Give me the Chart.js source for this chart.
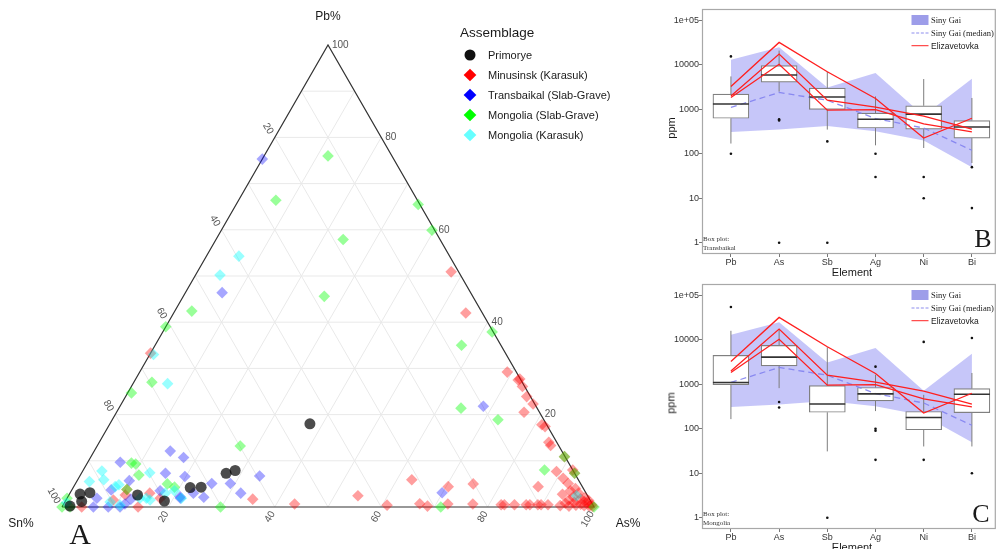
<!DOCTYPE html>
<html lang="en">
<head>
  <meta charset="UTF-8" />
  <title>Ternary plot and box plots</title>
  <script src="https://cdn.jsdelivr.net/npm/chart.js"></script>
  <style>
    body {
      margin: 0;
      background: #fff;
      font-family: "Liberation Sans", Arial, sans-serif;
    }
    #page {
      position: relative;
      width: 996px;
      height: 549px;
      overflow: hidden;
    }
    canvas { position: absolute; }
    .t { position: absolute; white-space: nowrap; line-height: 1; color: #1a1a1a; }
    .c { transform: translate(-50%, -50%); }
    .l { transform: translateY(-50%); }
    .serif { font-family: "Liberation Serif", "Times New Roman", serif; }
    .mk { position: absolute; transform: translate(-50%, -50%); }
  </style>
</head>
<body>
<div id="page">
  <canvas id="ternary" width="650" height="549" style="left:0;top:0"></canvas>
  <canvas id="boxB" width="346" height="275" style="left:650px;top:0"></canvas>
  <canvas id="boxC" width="346" height="274" style="left:650px;top:275px"></canvas>

  <!-- ternary labels -->
  <div class="t c" style="left:328px;top:16px;font-size:12px">Pb%</div>
  <div class="t c" style="left:21px;top:523px;font-size:12px">Sn%</div>
  <div class="t c" style="left:628px;top:523px;font-size:12px">As%</div>
  <div class="t c serif" style="left:80px;top:534px;font-size:30px">A</div>

  <div class="t l" style="left:460px;top:33px;font-size:13.5px">Assemblage</div>
  <div class="mk" style="left:470px;top:55px;width:11px;height:11px;border-radius:50%;background:#111"></div>
  <div class="mk" style="left:470px;top:75px;width:9px;height:9px;background:#ff0000;transform:translate(-50%,-50%) rotate(45deg)"></div>
  <div class="mk" style="left:470px;top:95px;width:9px;height:9px;background:#0000ff;transform:translate(-50%,-50%) rotate(45deg)"></div>
  <div class="mk" style="left:470px;top:114.5px;width:9px;height:9px;background:#00ff00;transform:translate(-50%,-50%) rotate(45deg)"></div>
  <div class="mk" style="left:470px;top:134.5px;width:9px;height:9px;background:#66ffff;transform:translate(-50%,-50%) rotate(45deg)"></div>
  <div class="t l" style="left:488px;top:55px;font-size:11px">Primorye</div>
  <div class="t l" style="left:488px;top:75px;font-size:11px">Minusinsk (Karasuk)</div>
  <div class="t l" style="left:488px;top:95px;font-size:11px">Transbaikal (Slab-Grave)</div>
  <div class="t l" style="left:488px;top:114.5px;font-size:11px">Mongolia (Slab-Grave)</div>
  <div class="t l" style="left:488px;top:134.5px;font-size:11px">Mongolia (Karasuk)</div>

  <!-- box plot B labels -->
  <div class="t c" style="left:670.5px;top:128px;font-size:11px;transform:translate(-50%,-50%) rotate(-90deg)">ppm</div>
  <div class="t c" style="left:852px;top:271.5px;font-size:11px">Element</div>
  <div class="mk" style="left:920px;top:20px;width:17px;height:10px;background:#9d9de9"></div>
  <div class="mk" style="left:920px;top:32.5px;width:17px;height:0;border-top:1.4px dashed #8d8ded"></div>
  <div class="mk" style="left:920px;top:45.5px;width:17px;height:1.6px;background:#ff2222"></div>
  <div class="t l serif" style="left:931px;top:19.5px;font-size:8.5px">Siny Gai</div>
  <div class="t l serif" style="left:931px;top:33px;font-size:8.5px">Siny Gai (median)</div>
  <div class="t l" style="left:931px;top:45.5px;font-size:8.5px">Elizavetovka</div>
  <div class="t serif" style="left:703px;top:235px;font-size:7px;line-height:9px;color:#333">Box plot:<br>Transbaikal</div>
  <div class="t c serif" style="left:983px;top:239px;font-size:26px">B</div>

  <!-- box plot C labels -->
  <div class="t c" style="left:670.5px;top:403px;font-size:11px;transform:translate(-50%,-50%) rotate(-90deg)">ppm</div>
  <div class="t c" style="left:852px;top:546.5px;font-size:11px">Element</div>
  <div class="mk" style="left:920px;top:295px;width:17px;height:10px;background:#9d9de9"></div>
  <div class="mk" style="left:920px;top:307.5px;width:17px;height:0;border-top:1.4px dashed #8d8ded"></div>
  <div class="mk" style="left:920px;top:320.5px;width:17px;height:1.6px;background:#ff2222"></div>
  <div class="t l serif" style="left:931px;top:294.5px;font-size:8.5px">Siny Gai</div>
  <div class="t l serif" style="left:931px;top:308px;font-size:8.5px">Siny Gai (median)</div>
  <div class="t l" style="left:931px;top:320.5px;font-size:8.5px">Elizavetovka</div>
  <div class="t serif" style="left:703px;top:510px;font-size:7px;line-height:9px;color:#333">Box plot:<br>Mongolia</div>
  <div class="t c serif" style="left:981px;top:514px;font-size:26px">C</div>
</div>

<script>
  // ---- ternary data: [Pb %, As %], Sn is the rest ----
  const primorye = [[18, 37.6], [7.3, 27.2], [7.9, 28.6], [4.2, 22], [4.3, 24], [2.6, 12.9],
    [1.3, 18.6], [3.1, 3.7], [2.8, 2.0], [1.2, 3.1], [0.2, 1.4]];

  const minusinsk = [[33.3, 0], [50.9, 47.7], [42, 54.9], [29.2, 69.1], [27.5, 72], [27.7, 72.2],
    [26.1, 73.5], [23.9, 75.4], [22.3, 77.4], [20.5, 76.6], [17.8, 81.3], [17.4, 82.1], [14, 84.5],
    [13.3, 85.2], [10.9, 89], [7.7, 89.1], [8, 92], [7.3, 92.7], [5.1, 92.6], [6.2, 91.1], [4.4, 87.3],
    [2.75, 92.7], [5.9, 62.8], [4.4, 70.4], [5, 74.8], [2.45, 54.4], [1.7, 35], [0.65, 43.4], [0.4, 60.9],
    [0.7, 66.9], [0.2, 68.6], [0.65, 72.2], [0.65, 76.9], [0.5, 82.3], [0.5, 82.9], [0.5, 84.8],
    [0.5, 87], [0.5, 87.7], [0.5, 89.2], [0.5, 89.8], [0.5, 91.1], [0.3, 93.5], [0.8, 94.2], [1.5, 94.5],
    [0.2, 95.2], [2.2, 95], [1, 95.8], [0.4, 96.4], [3, 95.6], [1.8, 96.6], [0.6, 97.2], [1.2, 97.6],
    [0.3, 98], [2, 97.3], [0.8, 98.5], [0.2, 99], [0.5, 99.3], [0.1, 99.7], [1.4, 98.3], [4, 94.5],
    [3.5, 93.8], [1.5, 8.9], [3, 15], [0, 14.3], [2.6, 10.6], [0, 3.7], [1.9, 17.5], [3.8, 10.3]];

  const transbaikal = [[75.3, 0], [46.4, 6.9], [21.8, 68.3], [3.1, 69.9], [12.1, 14.3], [10.7, 17.5],
    [9.7, 6.1], [7.3, 15.8], [6.6, 19.8], [5.7, 9.8], [2.1, 25.6], [1.9, 21.3], [3.7, 7.4], [1.9, 5.6],
    [0.65, 11.5], [6.7, 33.8], [5.1, 25.6], [5.1, 29.1], [3, 32.1], [3.5, 16.7], [0, 5.9], [0, 8.7],
    [3, 23.2], [1.7, 12.1], [2.2, 21.1], [0, 10.9]];

  const mongoliaSlab = [[76, 12], [66.4, 7], [57.9, 23.9], [45.6, 26.5], [42.4, 3.2], [39, 0],
    [27, 3.4], [24.7, 0.7], [65.5, 34.2], [59.9, 39.6], [37.9, 61.9], [35, 57.6], [21.4, 64.3],
    [18.9, 72.5], [10.9, 89], [8, 86.7], [7.3, 92.7], [0, 71.2], [0, 100], [13.2, 26.9], [0, 29.8],
    [9.5, 8.3], [9.3, 9.2], [6.9, 11], [5, 17.3], [4.3, 19], [3.8, 10.3], [1.9, 0], [0, 0], [0, 1.5]];

  const mongoliaKarasuk = [[54.3, 6.1], [50.2, 4.6], [33, 0.7], [26.7, 6.5], [7.8, 3.6], [5.9, 4.9],
    [5.5, 2.4], [7.4, 12.8], [1.9, 14.9], [0.4, 10.7], [3, 17.9], [3.5, 19.4], [4.4, 7.8], [1.9, 21.5],
    [2.45, 95.5], [4.8, 8.3], [1.5, 15.8], [1.1, 8.5], [1.9, 13.7], [0.9, 0.4]];

  const ternTicks = [20, 40, 60, 80, 100];
  const gridSteps = [10, 20, 30, 40, 50, 60, 70, 80, 90];

  // ---- box plot data ----
  const elements = ['Pb', 'As', 'Sb', 'Ag', 'Ni', 'Bi'];
  const logTicks = [1, 10, 100, 1000, 10000, 100000];

  const sinyHigh = [13000, 25000, 3100, 6600, 720, 4900];
  const sinyLow = [310, 350, 420, 320, 200, 50];
  const sinyMedian = [1100, 2400, 1600, 620, 380, 120];

  const elizA = [3250, 32000, 7000, 1750, 225, 630];
  const elizB = [2000, 17500, 1600, 1120, 700, 360];
  const elizC = [1850, 10300, 960, 980, 470, 310];

  const transLow = [170, 2500, 350, 155, 135, 62];
  const transQ1 = [630, 4100, 1000, 380, 360, 225];
  const transMed = [1320, 5900, 1900, 600, 780, 400];
  const transQ3 = [2200, 9600, 3000, 820, 1200, 560];
  const transHigh = [5500, 21000, 7000, 1950, 4800, 1800];
  const transOut = [[15500, 100], [600, 560, 1], [190, 1], [100, 30], [30, 10], [50, 6]];

  const mongLow = [165, 820, 31, 250, 40, 40];
  const mongQ1 = [980, 2600, 235, 425, 95, 230];
  const mongMed = [1100, 4100, 360, 610, 180, 600];
  const mongQ3 = [4500, 7500, 940, 850, 245, 800];
  const mongHigh = [16000, 17000, 6800, 1640, 580, 1800];
  const mongOut = [[55000], [400, 300], [1], [2500, 100, 90, 20], [9000, 20], [11000, 10]];

  // ---- ternary chart ----
  function tern(pb, as) {
    return { x: (as + pb / 2) / 100, y: pb / 100 };
  }
  const gap = { x: 0, y: null };

  const gridPts = [];
  gridSteps.forEach(k => {
    gridPts.push(tern(k, 0), tern(k, 100 - k), gap);
    gridPts.push(tern(0, k), tern(100 - k, k), gap);
    gridPts.push(tern(0, 100 - k), tern(100 - k, 0), gap);
  });

  function rotText(ctx, s, x, y, a) {
    ctx.save();
    ctx.translate(x, y);
    ctx.rotate(a);
    ctx.textAlign = 'right';
    ctx.fillText(s, 0, 0);
    ctx.restore();
  }

  const ternAxisLabels = {
    id: 'ternAxisLabels',
    afterDatasetsDraw(chart) {
      const { ctx } = chart;
      const sx = chart.scales.x, sy = chart.scales.y;
      const px = p => [sx.getPixelForValue(p.x), sy.getPixelForValue(p.y)];
      ctx.save();
      ctx.font = '10px "Liberation Sans", Arial, sans-serif';
      ctx.fillStyle = '#555';
      ctx.textBaseline = 'middle';
      ternTicks.forEach(t => {
        const label = String(t);
        let [x, y] = px(tern(t, 100 - t));      // Pb, right side
        ctx.textAlign = 'left';
        ctx.fillText(label, x + 4, y);
        [x, y] = px(tern(100 - t, 0));          // Sn, left side
        rotText(ctx, label, x - 4, y - 4, Math.PI / 3);
        [x, y] = px(tern(0, t));                // As, bottom
        rotText(ctx, label, x - 2, y + 5, -Math.PI / 3);
      });
      ctx.restore();
    }
  };

  function group(pts, color, style, radius, order) {
    return {
      data: pts.map(p => tern(p[0], p[1])),
      pointStyle: style,
      pointRadius: radius,
      pointBackgroundColor: color,
      pointBorderWidth: 0,
      clip: false,
      order
    };
  }

  new Chart(document.getElementById('ternary'), {
    type: 'scatter',
    data: {
      datasets: [
        { type: 'line', data: gridPts, borderColor: '#e9e9e9', borderWidth: 1, pointRadius: 0, order: 20 },
        {
          type: 'line', data: [tern(0, 0), tern(0, 100), tern(100, 0), tern(0, 0)],
          borderColor: '#333', borderWidth: 1.2, pointRadius: 0, clip: false, order: 19
        },
        group(minusinsk, 'rgba(255,0,0,0.38)', 'rectRot', 5.8, 6),
        group(transbaikal, 'rgba(0,0,255,0.35)', 'rectRot', 5.8, 5),
        group(mongoliaSlab, 'rgba(0,255,0,0.4)', 'rectRot', 5.8, 4),
        group(mongoliaKarasuk, 'rgba(0,255,255,0.4)', 'rectRot', 5.8, 3),
        group(primorye, 'rgba(0,0,0,0.7)', 'circle', 5.5, 1)
      ]
    },
    options: {
      responsive: false,
      animation: false,
      events: [],
      layout: { autoPadding: false, padding: { left: 62, right: 56, top: 45, bottom: 42 } },
      scales: {
        x: { type: 'linear', min: 0, max: 1, display: false },
        y: { type: 'linear', min: 0, max: 1, display: false }
      },
      plugins: { legend: { display: false }, tooltip: { enabled: false } }
    },
    plugins: [ternAxisLabels]
  });

  // ---- box plots ----
  const panelBorder = {
    id: 'panelBorder',
    afterDatasetsDraw(chart) {
      const { ctx, chartArea: a } = chart;
      ctx.save();
      ctx.strokeStyle = '#a8a8a8';
      ctx.lineWidth = 1.2;
      ctx.strokeRect(a.left + 0.5, a.top + 0.5, a.right - a.left - 1.2, a.bottom - a.top - 1);
      ctx.restore();
    }
  };

  function boxChart(id, low, q1, med, q3, high, out, axisHeight) {
    const pos = elements.map((e, i) => i + 1);
    const line = vals => vals.map((v, i) => ({ x: pos[i], y: v }));
    const whiskers = [];
    pos.forEach((x, i) => {
      whiskers.push({ x, y: low[i] }, { x, y: q1[i] }, { x, y: null },
                    { x, y: q3[i] }, { x, y: high[i] }, { x, y: null });
    });
    const outliers = [];
    out.forEach((list, i) => list.forEach(v => outliers.push({ x: pos[i], y: v })));
    const red = vals => ({
      type: 'line', data: line(vals), borderColor: '#ff1f1f', borderWidth: 1.3, pointRadius: 0, order: 1
    });

    new Chart(document.getElementById(id), {
      type: 'scatter',
      data: {
        datasets: [
          { type: 'line', data: line(sinyHigh), fill: '+1', backgroundColor: 'rgba(120,120,240,0.42)',
            borderWidth: 0, pointRadius: 0, order: 10 },
          { type: 'line', data: line(sinyLow), fill: false, borderWidth: 0, pointRadius: 0, order: 11 },
          { type: 'line', data: whiskers, borderColor: '#7d7d7d', borderWidth: 1, pointRadius: 0, order: 9 },
          { type: 'bar', data: pos.map((x, i) => ({ x, y: [q1[i], q3[i]] })), backgroundColor: '#fff',
            borderColor: '#808080', borderWidth: 1.2, borderSkipped: false, barThickness: 36, order: 8 },
          { type: 'line', data: line(sinyMedian), borderColor: 'rgba(130,130,240,0.9)', borderDash: [6, 4],
            borderWidth: 1.3, pointRadius: 0, order: 7 },
          { data: line(med), pointStyle: 'line', pointRadius: 18, pointBorderColor: '#333',
            pointBorderWidth: 1.6, order: 6 },
          { data: outliers, pointRadius: 1.3, pointBackgroundColor: '#111', pointBorderWidth: 0, order: 5 },
          red(elizA), red(elizB), red(elizC)
        ]
      },
      options: {
        responsive: false,
        animation: false,
        events: [],
        layout: { autoPadding: false, padding: { left: 0, right: 0, top: 9, bottom: 0 } },
        scales: {
          x: {
            type: 'linear', min: 0.4, max: 6.5, offset: false,
            afterBuildTicks: s => { s.ticks = pos.map(v => ({ value: v })); },
            afterFit: s => { s.height = axisHeight; s.paddingLeft = 0; s.paddingRight = 0; },
            ticks: {
              padding: 0, color: '#333', maxRotation: 0, autoSkip: false,
              font: { family: '"Liberation Sans", Arial, sans-serif', size: 9 },
              callback: v => elements[v - 1]
            },
            grid: { offset: false, drawOnChartArea: false, drawTicks: true, tickLength: 3, color: '#777' },
            border: { display: false }
          },
          y: {
            type: 'logarithmic', min: 0.5564, max: 180700, beginAtZero: false,
            afterBuildTicks: s => { s.ticks = logTicks.map(v => ({ value: v })); },
            afterFit: s => { s.width = 52; s.paddingTop = 0; s.paddingBottom = 0; },
            ticks: {
              padding: 0, color: '#333', autoSkip: false,
              font: { family: '"Liberation Sans", Arial, sans-serif', size: 9 },
              callback: v => (v === 100000 ? '1e+05' : String(v))
            },
            grid: { drawOnChartArea: false, drawTicks: true, tickLength: 3, color: '#777' },
            border: { display: false }
          }
        },
        plugins: { legend: { display: false }, tooltip: { enabled: false } }
      },
      plugins: [panelBorder]
    });
  }

  boxChart('boxB', transLow, transQ1, transMed, transQ3, transHigh, transOut, 21);
  boxChart('boxC', mongLow, mongQ1, mongMed, mongQ3, mongHigh, mongOut, 20);
</script>
</body>
</html>
